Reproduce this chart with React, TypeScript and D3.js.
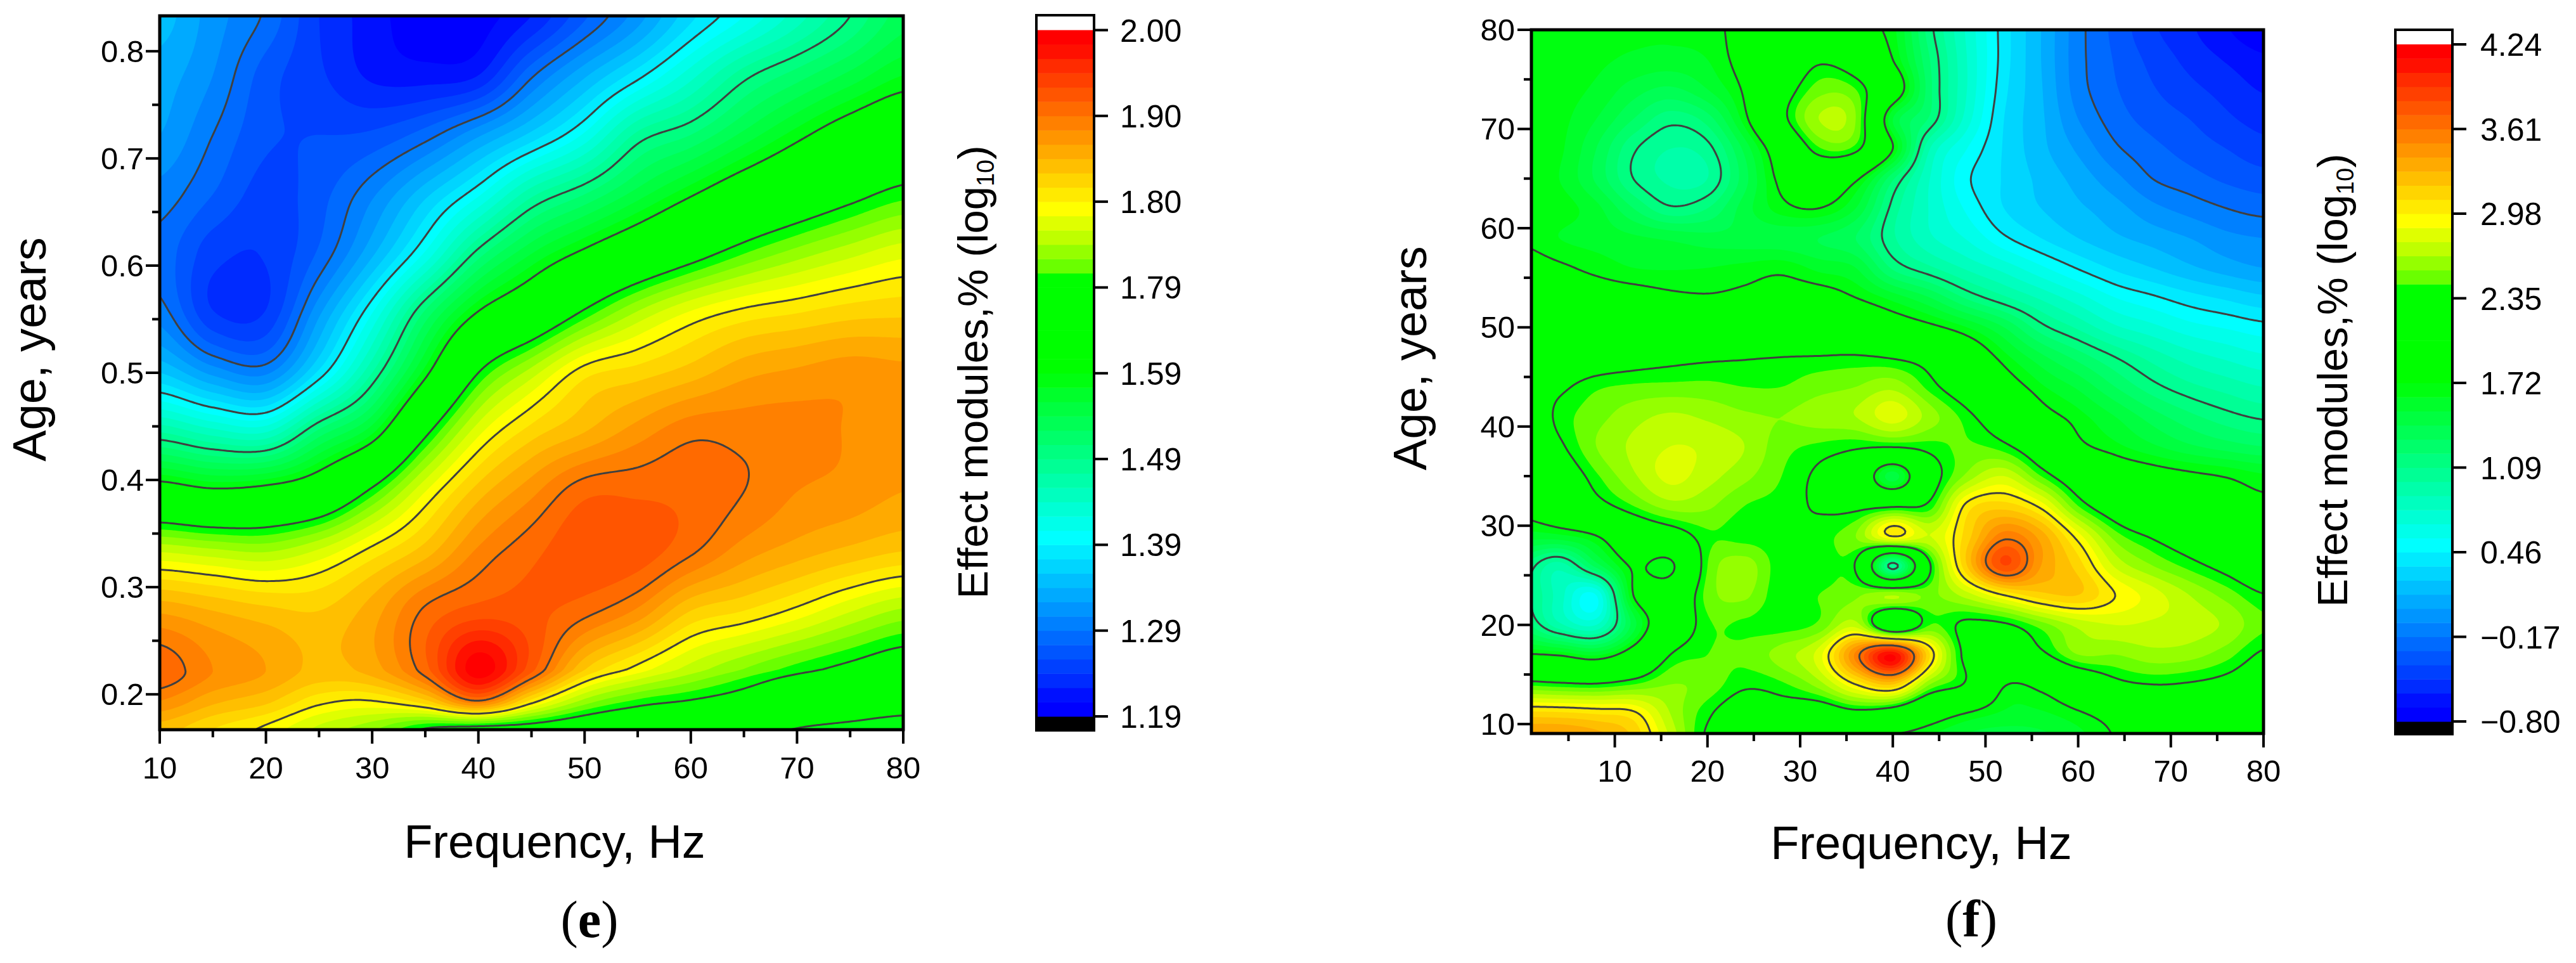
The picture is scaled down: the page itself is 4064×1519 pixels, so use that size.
import React, { useMemo } from 'react';
import * as d3 from 'd3';

// one colour per colour bar step, from the bottom of the bar to the top
const bandColors = [
  '#0000ff', '#0010ff', '#002bff', '#0040ff', '#0055ff', '#006aff',
  '#0080ff', '#0095ff', '#00aaff', '#00bfff', '#00d5ff', '#00eaff',
  '#00ffff', '#00ffea', '#00ffd5', '#00ffbf', '#00ffaa', '#00ff95',
  '#00ff80', '#00ff6a', '#00ff55', '#00ff40', '#00ff2b', '#00ff10',
  '#00ff00', '#00ff00', '#00ff00', '#00ff00', '#00ff00', '#00ff00',
  '#00ff00', '#6aff00', '#95ff00', '#bfff00', '#dfff00', '#ffff00',
  '#ffea00', '#ffd500', '#ffbf00', '#ffaa00', '#ff9500', '#ff8000',
  '#ff6a00', '#ff5500', '#ff4000', '#ff2b00', '#ff1000', '#ff0000',
];
const bandsPerTick = 6;

const barLabelsE = ['1.19', '1.29', '1.39', '1.49', '1.59', '1.79', '1.80', '1.90', '2.00'];
const barLabelsF = ['\u22120.80', '\u22120.17', '0.46', '1.09', '1.72', '2.35', '2.98', '3.61', '4.24'];

const freqTicksE = [10, 20, 30, 40, 50, 60, 70, 80];
const freqMinorE = [15, 25, 35, 45, 55, 65, 75];
const ageTicksE = [0.2, 0.3, 0.4, 0.5, 0.6, 0.7, 0.8];
const ageMinorE = [0.25, 0.35, 0.45, 0.55, 0.65, 0.75];

const freqTicksF = [10, 20, 30, 40, 50, 60, 70, 80];
const freqMinorF = [5, 15, 25, 35, 45, 55, 65, 75];
const ageTicksF = [10, 20, 30, 40, 50, 60, 70, 80];
const ageMinorF = [15, 25, 35, 45, 55, 65, 75];

// ages of the rows below, oldest first
const ageRowsE = [0.833, 0.7775, 0.722, 0.6665, 0.611, 0.5555, 0.5, 0.4445, 0.389, 0.3335, 0.278, 0.2225, 0.194, 0.167];
const ageRowsF = [80, 77, 74, 71, 68, 65, 62, 59, 56, 53, 50, 47, 44, 41, 38, 35, 32, 29, 26, 23, 20, 17, 14, 11, 8];

// values are read in colour bar steps (0 = bottom label, 48 = top label)
// rows run from the oldest age down, columns from low to high frequency
const valuesE = [
  [9.5, 7.5, 5.8, 3, 1.5, 0.2, 0.5, 2, 4.8, 7.5, 10.7, 13, 15.5, 18, 20.5],
  [8.5, 7, 4.5, 3.2, 1.8, 1.5, 2, 5.8, 8.8, 11.6, 14.6, 17.6, 19.5, 21.3, 23],
  [8, 6, 4.2, 4, 4.2, 5.5, 7.8, 10.3, 13.2, 17.3, 19, 21.3, 23.5, 25.5, 27],
  [6.6, 5, 3.6, 4.6, 6.8, 9.7, 12.8, 16.7, 19, 21.5, 23.8, 26, 27.7, 29.3, 30.6],
  [5.6, 3.4, 3.1, 5.2, 8.8, 13.2, 18.5, 22, 24.5, 26.8, 29, 31, 32.5, 33.7, 34.7],
  [6.5, 3.1, 3.1, 7.8, 13, 19.3, 24.2, 27, 30.4, 33.2, 35.2, 36.4, 37, 37.6, 37.8],
  [10, 7.7, 6.8, 11.3, 17, 23.5, 30, 33.5, 36.6, 37.5, 38.5, 39.7, 40.2, 40.6, 40.3],
  [17, 15.5, 15, 19.4, 22.8, 29.5, 34.7, 37.5, 39, 40.5, 41.7, 41.6, 41.4, 40.9, 40.2],
  [25.5, 24.5, 25, 26.5, 30.5, 35, 38.5, 40.7, 42.7, 42.8, 42.7, 42, 41, 40.6, 40],
  [33.9, 33.3, 32.9, 34.2, 36.4, 38.5, 41.2, 42.7, 43.7, 43.6, 42.2, 40.5, 39.5, 38.7, 38],
  [39.8, 39, 38.3, 38, 39.5, 42.2, 43.4, 43.3, 42.4, 40.8, 38, 37, 35.7, 34.1, 32.8],
  [42.8, 41, 40, 38.7, 39.5, 42.6, 47.6, 43.3, 38, 35.5, 33.5, 31.9, 30.5, 29.4, 28.4],
  [41, 39.3, 38.3, 36.4, 36, 37.8, 42, 36.7, 32.7, 30.8, 29.9, 28.8, 27.2, 26.3, 25.5],
  [38.5, 37, 35.7, 33.7, 32.2, 29.8, 29, 28.8, 28, 27.3, 26.2, 24.8, 23.9, 23.4, 22.9],
];

const valuesF = [
  [23.6, 23.5, 23.3, 23.2, 23.2, 23.5, 24.6, 25, 25.3, 24.8, 23.3, 18.4, 14.8, 11.5, 9, 6.4, 4.7, 3.2, 2.2, 1.1, 0.2],
  [23.6, 23.4, 23.2, 22.8, 22.6, 23, 24.8, 26.7, 29.5, 28, 24, 19, 15, 11.5, 9, 6.4, 4.9, 3.7, 2.7, 1.9, 1.2],
  [23.6, 23.4, 22.8, 21.5, 20.8, 22, 24.3, 28.5, 31.5, 31, 26, 19.3, 15, 11.3, 9.1, 6.5, 5.1, 4.1, 3.3, 2.6, 1.9],
  [23.6, 23.3, 22, 20, 18.4, 19.5, 23.5, 29.2, 33, 32, 22, 18.8, 14.5, 11, 9.2, 7, 5.5, 4.6, 4, 3.2, 2.6],
  [23.6, 23.2, 21, 18.2, 17, 17.6, 21.3, 26, 30.8, 30.5, 24, 16, 13, 10.9, 9.3, 7.8, 6.2, 5.3, 4.6, 4, 3.4],
  [23.6, 23, 20.8, 18, 16.8, 17, 20.6, 24.6, 26.5, 24.4, 19.2, 15, 12.2, 10.9, 9.7, 8.6, 7.3, 6, 5.4, 4.8, 4.4],
  [23.7, 23.5, 22.3, 20, 18.2, 19, 21.5, 23.5, 24, 22, 17.6, 14.9, 12.8, 11, 10, 9.2, 8.4, 7.3, 6.6, 6, 5.6],
  [23.8, 23, 22.6, 22.2, 21.8, 21.4, 21.4, 21.4, 21, 20, 17.2, 15.2, 13.9, 12.2, 11, 10, 9.2, 8.6, 8, 7.3, 7],
  [25, 24.3, 23.6, 23, 22.9, 23, 23.3, 23.6, 22.7, 22, 18.8, 17.2, 15.8, 14.6, 13.2, 11.9, 10.8, 10, 9.2, 8.5, 8],
  [26, 25.6, 25.2, 24.9, 24.4, 24.2, 24.5, 25, 25, 24, 22.6, 21, 18.8, 17.2, 15.8, 14.4, 13, 12.2, 11.4, 10.8, 10.2],
  [27, 26.8, 26.6, 26.5, 26.3, 26.2, 26.3, 26.5, 26.8, 26.7, 25.6, 24.5, 23, 21, 18.4, 16.8, 15.2, 14.3, 13.4, 12.9, 12.4],
  [28, 28, 28.4, 28.9, 29.3, 29.6, 29.8, 30, 30.1, 30.2, 29.8, 28.8, 26.2, 23.4, 21.3, 19.6, 18, 16.6, 15.5, 14.8, 14.2],
  [28.6, 29.6, 30.8, 31.2, 31.3, 31.3, 31, 31, 31.6, 32, 32.7, 30.6, 28.2, 25.4, 23.2, 21.8, 20, 18.4, 17.3, 16.6, 16],
  [27.8, 30.4, 31.6, 32.6, 33.2, 32.8, 32.2, 32, 32.5, 33, 34.5, 32.5, 30.5, 28, 25, 23.4, 22, 20.5, 19.3, 18.4, 17.8],
  [27, 29.6, 32, 33.2, 34, 33.8, 33, 31.4, 30.8, 30.3, 30.2, 30.6, 31.2, 30.4, 27.8, 24.6, 23.3, 22.2, 21.2, 20.5, 20],
  [26.2, 28, 30.8, 32.8, 34.3, 33.4, 32.3, 31, 29.6, 27.5, 21.5, 28.5, 32.3, 34, 31, 28, 26, 25, 24.4, 23.9, 23.2],
  [24.8, 26.4, 29, 31, 32.5, 32.2, 31, 30.6, 29.8, 29.5, 29.7, 30.5, 36.4, 37.5, 35.6, 31, 28.2, 26.2, 25.6, 25, 24.5],
  [22.5, 22.8, 24, 27, 28.5, 30.8, 30.6, 30.4, 30.6, 32, 36.2, 34, 37.5, 41.5, 39.5, 35.4, 31.5, 29.7, 28.3, 27, 26],
  [19, 16.5, 20.5, 24.3, 23.5, 31, 32.5, 30.4, 30.4, 29.8, 17.5, 29.8, 38, 44, 40, 37.5, 33.8, 32, 30.6, 29.2, 27.5],
  [18.5, 15.5, 13, 24, 26.5, 31.4, 32.2, 30.3, 31, 31.8, 33, 31.8, 33.5, 36, 37.6, 38, 36, 34.5, 33, 31.6, 30.1],
  [19.5, 16.3, 15, 21.5, 27.2, 30.8, 30.8, 30.5, 31.2, 33.5, 26.5, 31, 29.5, 29.7, 31.5, 33.3, 34, 33.8, 33.5, 32.8, 31.2],
  [24.2, 23.8, 22.8, 25.5, 30, 31, 31.3, 32.5, 34.5, 41.3, 47, 37, 29.2, 28, 29.5, 32, 32, 32.6, 32.4, 31.4, 29.7],
  [30.8, 30.4, 30.2, 31, 32, 31.6, 30.3, 30.8, 32.5, 36, 38, 32, 29.6, 24.2, 24.7, 27, 29.3, 30, 29.8, 29.2, 28],
  [37.5, 37.4, 37, 36.4, 33, 30.3, 28.4, 28.6, 28, 29, 28, 25.5, 23.8, 22.8, 22.8, 23.7, 25, 26.2, 27, 27, 26.8],
  [41, 41, 40, 38, 34, 29.5, 27.5, 26.5, 25, 23.5, 23, 22.4, 21.5, 21, 21.5, 22.5, 24, 25, 25.5, 25.8, 25.5],
];

const FONT = '"Liberation Sans", Arial, sans-serif';
const FRAME = 5;
const LINE_COLOR = '#404040';

function catmull(p0: number, p1: number, p2: number, p3: number, t: number) {
  return 0.5 * (2 * p1 + (p2 - p0) * t + (2 * p0 - 5 * p1 + 4 * p2 - p3) * t * t + (3 * p1 - p0 - 3 * p2 + p3) * t * t * t);
}

// resample the read values so the contour edges come out round
function resample(rows: number[][], ages: number[], w: number, h: number) {
  const nr = rows.length;
  const nc = rows[0].length;
  const at = (r: number, c: number) => rows[Math.max(0, Math.min(nr - 1, r))][Math.max(0, Math.min(nc - 1, c))];
  const first = ages[0];
  const last = ages[nr - 1];
  const out = new Array(w * h);
  for (let j = 0; j < h; j++) {
    const age = first + (j / (h - 1)) * (last - first);
    let r = 0;
    while (r < nr - 2 && ages[r + 1] >= age) r++;
    const tr = (ages[r] - age) / (ages[r] - ages[r + 1]);
    for (let i = 0; i < w; i++) {
      const u = (i / (w - 1)) * (nc - 1);
      const c = Math.min(Math.floor(u), nc - 2);
      const tc = u - c;
      const col = [-1, 0, 1, 2].map(k => catmull(at(r + k, c - 1), at(r + k, c), at(r + k, c + 1), at(r + k, c + 2), tc));
      const val = catmull(col[0], col[1], col[2], col[3], tr);
      out[j * w + i] = Math.max(0.01, Math.min(47.99, val));
    }
  }
  return out;
}

type PanelProps = {
  id: string;
  values: number[][];
  ageRows: number[];
  gridFreq: [number, number];
  freqDomain: [number, number];
  ageDomain: [number, number];
  plot: { left: number; right: number; top: number; bottom: number };
  freqTicks: number[];
  freqMinor: number[];
  ageTicks: number[];
  ageMinor: number[];
  ageFormat: (d: number) => string;
  tickLabelY: number;
  tickLabelX: number;
  ageTitle: { x: number; y: number };
  freqTitle: { x: number; y: number };
  bar: { left: number; right: number; top: number; bottom: number; first: number; last: number; labelX: number; titleX: number; titleY: number };
  barLabels: string[];
  panelLabel: { x: number; y: number; text: string };
};

function Panel(p: PanelProps) {
  const x = d3.scaleLinear().domain(p.freqDomain).range([p.plot.left, p.plot.right]);
  const y = d3.scaleLinear().domain(p.ageDomain).range([p.plot.bottom, p.plot.top]);
  const band = d3.scaleLinear().domain([0, bandColors.length]).range([p.bar.first, p.bar.last]);

  const { fills, lines } = useMemo(() => {
    const W = 320;
    const H = 320;
    const grid = resample(p.values, p.ageRows, W, H);
    const gx = d3.scaleLinear().domain([0.5, W - 0.5]).range(p.gridFreq.map(x) as [number, number]);
    const gy = d3.scaleLinear().domain([0.5, H - 0.5]).range([y(p.ageRows[0]), y(p.ageRows[p.ageRows.length - 1])]);
    const path = d3.geoPath(d3.geoTransform({
      point(a: number, b: number) {
        this.stream.point(gx(a), gy(b));
      },
    }));
    const contours = d3.contours().size([W, H]);
    const fills = bandColors.map((c, i) => ({ color: c, d: path(contours.contour(grid, i)) || '' }));
    const lines = p.barLabels.map((_, k) => path(contours.contour(grid, k * bandsPerTick)) || '');
    return { fills, lines };
  }, [p.id]);

  const tickStyle = { stroke: '#000', strokeWidth: 4 };

  return (
    <g fontFamily={FONT} fill="#000">
      <clipPath id={`clip-${p.id}`}>
        <rect x={p.plot.left} y={p.plot.top} width={p.plot.right - p.plot.left} height={p.plot.bottom - p.plot.top} />
      </clipPath>
      <g clipPath={`url(#clip-${p.id})`}>
        <rect x={p.plot.left} y={p.plot.top} width={p.plot.right - p.plot.left} height={p.plot.bottom - p.plot.top} fill={bandColors[0]} />
        {fills.map((f, i) => <path key={i} d={f.d} fill={f.color} stroke="none" />)}
        {lines.map((d, i) => <path key={i} d={d} fill="none" stroke={LINE_COLOR} strokeWidth={3} strokeLinejoin="round" />)}
      </g>
      <rect x={p.plot.left} y={p.plot.top} width={p.plot.right - p.plot.left} height={p.plot.bottom - p.plot.top} fill="none" stroke="#000" strokeWidth={FRAME} />

      {p.freqTicks.map(t => (
        <g key={t}>
          <line x1={x(t)} x2={x(t)} y1={p.plot.bottom} y2={p.plot.bottom + 22} {...tickStyle} />
          <text x={x(t)} y={p.tickLabelY} textAnchor="middle" fontSize={49}>{t}</text>
        </g>
      ))}
      {p.freqMinor.map(t => <line key={t} x1={x(t)} x2={x(t)} y1={p.plot.bottom} y2={p.plot.bottom + 12} {...tickStyle} />)}
      {p.ageTicks.map(t => (
        <g key={t}>
          <line x1={p.plot.left - 22} x2={p.plot.left} y1={y(t)} y2={y(t)} {...tickStyle} />
          <text x={p.tickLabelX} y={y(t) + 17} textAnchor="end" fontSize={49}>{p.ageFormat(t)}</text>
        </g>
      ))}
      {p.ageMinor.map(t => <line key={t} x1={p.plot.left - 12} x2={p.plot.left} y1={y(t)} y2={y(t)} {...tickStyle} />)}

      <text transform={`translate(${p.ageTitle.x},${p.ageTitle.y}) rotate(-90)`} textAnchor="middle" fontSize={74}>Age, years</text>
      <text x={p.freqTitle.x} y={p.freqTitle.y} textAnchor="middle" fontSize={74}>Frequency, Hz</text>

      {/* colour bar */}
      <rect x={p.bar.left} y={p.bar.top} width={p.bar.right - p.bar.left} height={p.bar.bottom - p.bar.top} fill="#fff" />
      <rect x={p.bar.left} y={p.bar.first} width={p.bar.right - p.bar.left} height={p.bar.bottom - p.bar.first} fill="#000" />
      {bandColors.map((c, i) => (
        <rect key={i} x={p.bar.left} y={band(i + 1)} width={p.bar.right - p.bar.left} height={band(i) - band(i + 1) + 0.5} fill={c} />
      ))}
      <rect x={p.bar.left} y={p.bar.top} width={p.bar.right - p.bar.left} height={p.bar.bottom - p.bar.top} fill="none" stroke="#000" strokeWidth={4} />
      {p.barLabels.map((l, k) => (
        <g key={l}>
          <line x1={p.bar.right} x2={p.bar.right + 22} y1={band(k * bandsPerTick)} y2={band(k * bandsPerTick)} {...tickStyle} />
          <text x={p.bar.labelX} y={band(k * bandsPerTick) + 18} fontSize={50}>{l}</text>
        </g>
      ))}
      <text transform={`translate(${p.bar.titleX},${p.bar.titleY}) rotate(-90)`} textAnchor="middle" fontSize={67}>
        Effect modules,% (log<tspan fontSize={38} dy={10}>10</tspan><tspan dy={-10}>)</tspan>
      </text>

      <text x={p.panelLabel.x} y={p.panelLabel.y} textAnchor="middle" fontSize={82} fontFamily='"Liberation Serif", serif'>
        (<tspan fontWeight="bold">{p.panelLabel.text}</tspan>)
      </text>
    </g>
  );
}

export default function App() {
  return (
    <svg width={4064} height={1519} style={{ position: 'absolute', left: 0, top: 0, background: '#fff' }}>
      <Panel
        id="e"
        values={valuesE}
        ageRows={ageRowsE}
        gridFreq={[10, 80]}
        freqDomain={[10, 80]}
        ageDomain={[0.167, 0.833]}
        plot={{ left: 252, right: 1425, top: 25, bottom: 1151 }}
        freqTicks={freqTicksE}
        freqMinor={freqMinorE}
        ageTicks={ageTicksE}
        ageMinor={ageMinorE}
        ageFormat={d3.format('.1f')}
        tickLabelY={1228}
        tickLabelX={227}
        ageTitle={{ x: 72, y: 551 }}
        freqTitle={{ x: 875, y: 1353 }}
        bar={{ left: 1635, right: 1726, top: 24, bottom: 1152, first: 1130, last: 47.5, labelX: 1767, titleX: 1558, titleY: 587 }}
        barLabels={barLabelsE}
        panelLabel={{ x: 930, y: 1478, text: 'e' }}
      />
      <Panel
        id="f"
        values={valuesF}
        ageRows={ageRowsF}
        gridFreq={[0, 80]}
        freqDomain={[1, 80]}
        ageDomain={[9.05, 80]}
        plot={{ left: 2416, right: 3571, top: 47, bottom: 1157 }}
        freqTicks={freqTicksF}
        freqMinor={freqMinorF}
        ageTicks={ageTicksF}
        ageMinor={ageMinorF}
        ageFormat={d3.format('d')}
        tickLabelY={1233}
        tickLabelX={2390}
        ageTitle={{ x: 2250, y: 565 }}
        freqTitle={{ x: 3031, y: 1355 }}
        bar={{ left: 3779, right: 3869, top: 47, bottom: 1158, first: 1138, last: 70, labelX: 3913, titleX: 3703, titleY: 600 }}
        barLabels={barLabelsF}
        panelLabel={{ x: 3110, y: 1477, text: 'f' }}
      />
    </svg>
  );
}
